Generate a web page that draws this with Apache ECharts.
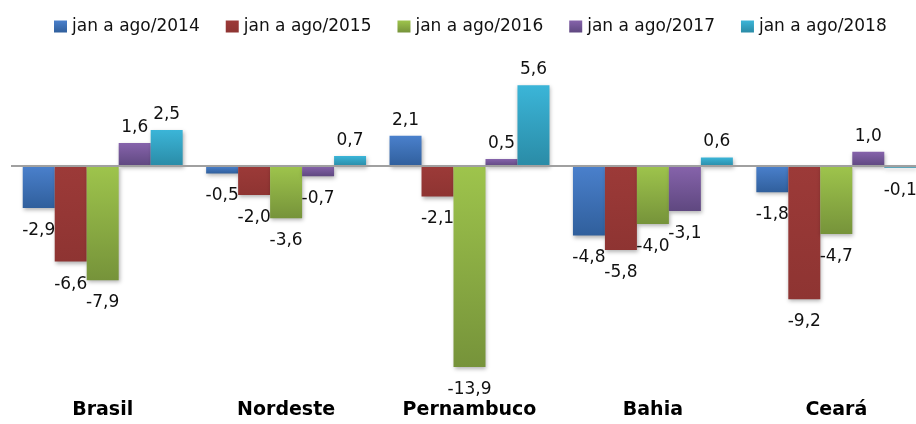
<!DOCTYPE html>
<html><head><meta charset="utf-8">
<script src="https://cdn.jsdelivr.net/npm/echarts@6/dist/echarts.min.js"></script>
<style>html,body{margin:0;padding:0;background:#fff;overflow:hidden}#c{width:930px;height:424px}</style>
</head><body><div id="c"></div>
<script>
const categories = ['Brasil', 'Nordeste', 'Pernambuco', 'Bahia', 'Ceará'];
const seriesNames = ['jan a ago/2014', 'jan a ago/2015', 'jan a ago/2016', 'jan a ago/2017', 'jan a ago/2018'];
const v2014 = [-2.9, -0.5, 2.1, -4.8, -1.8];
const v2015 = [-6.6, -2.0, -2.1, -5.8, -9.2];
const v2016 = [-7.9, -3.6, -13.9, -4.0, -4.7];
const v2017 = [1.6, -0.7, 0.5, -3.1, 1.0];
const v2018 = [2.5, 0.7, 5.6, 0.6, -0.1];
const values = [v2014, v2015, v2016, v2017, v2018];
const colors = [
  ['#4a80cc', '#305f9c'],
  ['#9c3a38', '#8e3432'],
  ['#9ec44c', '#76933a'],
  ['#8663ab', '#5f4880'],
  ['#3bb5d8', '#2a8ba6']
];
function grad(c){
  return new echarts.graphic.LinearGradient(0,0,0,1,[{offset:0,color:c[0]},{offset:1,color:c[1]}]);
}
const chart = echarts.init(document.getElementById('c'));
const series = seriesNames.map((n,i)=>({
  name:n, type:'bar',
  data: values[i].map(v=>({value:v, label: v<0 ? {position:'bottom', distance:14} : {}})),
  barGap:'0%', barCategoryGap:'12.8%',
  itemStyle:{color:grad(colors[i]), shadowBlur:4, shadowColor:'rgba(0,0,0,0.3)', shadowOffsetY:2, shadowOffsetX:1},
  label:{show:true, fontFamily:'DejaVu Sans', fontSize:17, color:'#111',
    position:'top', distance:7,
    formatter:p=>p.value.toFixed(1).replace('.', ',')},
  markLine: i===0 ? {silent:true, symbol:'none', z:10,
    lineStyle:{color:'#a0a0a0', width:2, type:'solid'}, label:{show:false},
    data:[{yAxis:0}]} : undefined
}));
chart.setOption({
  animation:false,
  legend:{data:seriesNames, left:49, top:13, itemWidth:13, itemHeight:12, itemGap:26,
    icon:'rect', textStyle:{fontFamily:'DejaVu Sans', fontSize:17, color:'#111'}},
  grid:{left:11, top:65, width:917, height:318},
  xAxis:{type:'category', data:categories, axisLine:{show:false}, axisTick:{show:false},
    axisLabel:{margin:18, fontFamily:'DejaVu Sans', fontWeight:'bold', fontSize:19, color:'#000'}},
  yAxis:{type:'value', min:-15, max:7, interval:1, show:false, splitLine:{show:false}},
  series:series
});
</script></body></html>
